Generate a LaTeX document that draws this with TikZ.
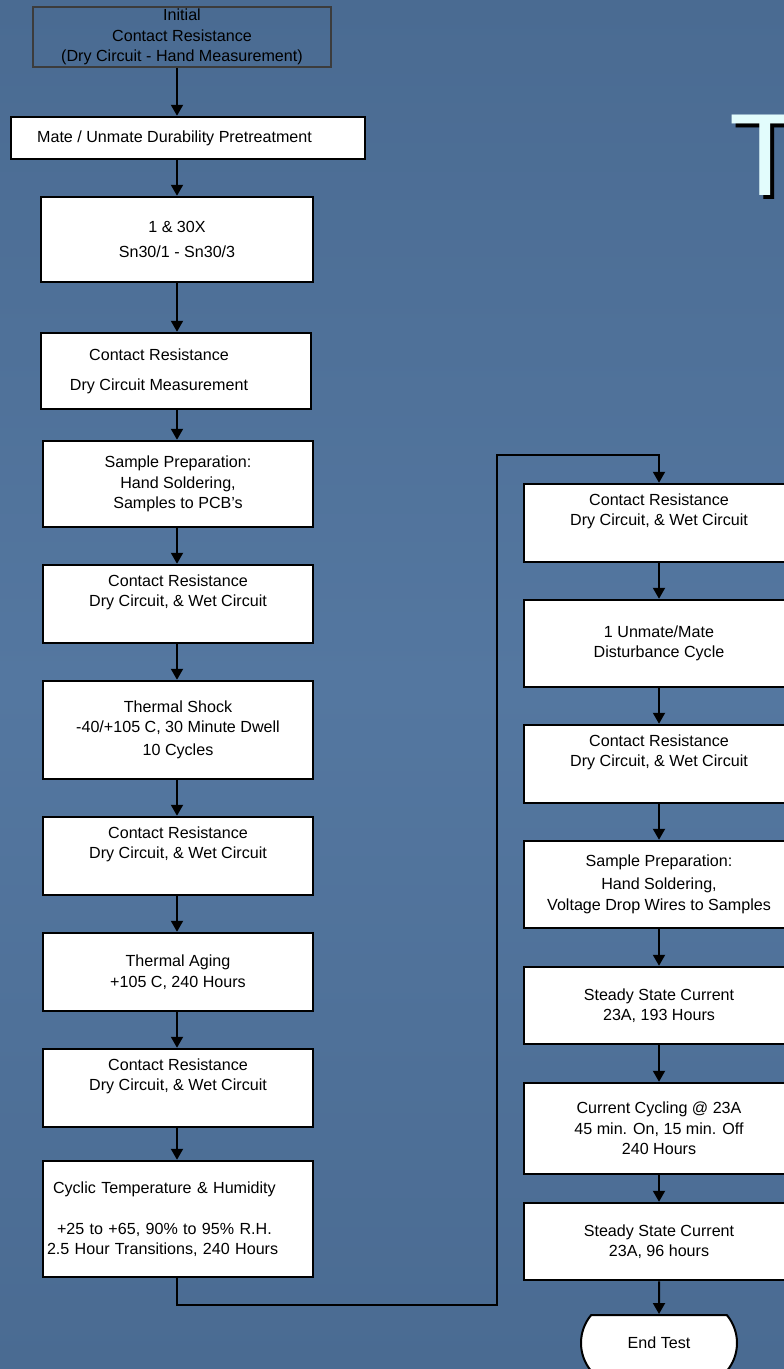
\documentclass[tikz,border=0pt]{standalone}
\usepackage{fontspec}
\setmainfont{Liberation Sans}
\usepackage{tikz}
\usetikzlibrary{arrows.meta,positioning,shapes.misc,calc}
\definecolor{slidebgdark}{HTML}{4A6B92}
\definecolor{slidebglight}{HTML}{5477A0}
\definecolor{titlecyan}{HTML}{E2FCFC}
\definecolor{framegray}{HTML}{3C3C3C}

\begin{document}
\begin{tikzpicture}[x=1pt,y=-1pt,
    stage/.style={draw=black,line width=2.5pt,fill=white,inner sep=0pt,minimum width=270pt,
      align=center,font=\fontsize{16.1}{20.5}\selectfont},
    flow/.style={line width=2pt,-{Triangle[length=11pt,width=12pt]}},
    heading/.style={anchor=base west,inner sep=0pt,font=\fontsize{117}{117}\selectfont}]
    \useasboundingbox (0,0) rectangle (784,1369);
    \clip (0,0) rectangle (784,1369);
    \shade[top color=slidebgdark,bottom color=slidebgdark,middle color=slidebglight] (0,0) rectangle (784,1369);
    \node (titleshadow) at (733,199) [heading,text=black] {T};
    \node (title) at (729.5,195) [heading,text=titlecyan] {T};
    \coordinate (spine) at (177,0);
    \node (init) at (182,37) [stage,fill=none,draw=framegray,line width=2pt,minimum width=298pt,minimum height=60pt] {Initial\\Contact Resistance\\(Dry Circuit - Hand Measurement)};
    \node (mate) at (188,138) [stage,minimum width=354pt,minimum height=42pt] {Mate / Unmate Durability Pretreatment\hspace*{27pt}};
    \node (cycles) at (177,239.5) [stage,minimum width=272pt,minimum height=85pt] {1 \& 30X\\[4.5pt]Sn30/1 - Sn30/3};
    \node (crdry) at (176,371) [stage,minimum height=76pt] {Contact Resistance\hspace*{34pt}\\[9.5pt]Dry Circuit Measurement\hspace*{34pt}};
    \node (prep) at (178,484) [stage,minimum height=86pt] {Sample Preparation:\\Hand Soldering,\\Samples to PCB's};
    \node (crone) at (178,604) [stage,minimum height=78pt] {Contact Resistance\\Dry Circuit, \& Wet Circuit\\\strut};
    \node (shock) at (178,730) [stage,minimum height=98pt] {Thermal Shock\\-40/+105 C, 30 Minute Dwell\\[2.5pt]10 Cycles};
    \node (crtwo) at (178,856) [stage,minimum height=78pt] {Contact Resistance\\Dry Circuit, \& Wet Circuit\\\strut};
    \node (aging) at (178,972) [stage,minimum height=78pt] {Thermal Aging\\+105 C, 240 Hours};
    \node (crthree) at (178,1088) [stage,minimum height=78pt] {Contact Resistance\\Dry Circuit, \& Wet Circuit\\\strut};
    \node (humid) at (178,1219) [stage,minimum height=116pt,text width=262pt,inner xsep=4pt,align=left] {\hspace*{6pt}Cyclic Temperature \& Humidity\\[20.5pt]\hspace*{10pt}+25 to +65, 90\% to 95\% R.H.\\2.5 Hour Transitions, 240 Hours};
    \node (crfour) at (659,523) [stage,minimum height=78pt] {Contact Resistance\\Dry Circuit, \& Wet Circuit\\\strut};
    \node (disturb) at (659,643.5) [stage,minimum height=87pt] {1 Unmate/Mate\\Disturbance Cycle};
    \node (crfive) at (659,764) [stage,minimum height=78pt] {Contact Resistance\\Dry Circuit, \& Wet Circuit\\\strut};
    \node (wires) at (659,884.5) [stage,minimum height=87pt] {Sample Preparation:\\[2.5pt]Hand Soldering,\\Voltage Drop Wires to Samples};
    \node (steadyone) at (659,1005.5) [stage,minimum height=77pt] {Steady State Current\\23A, 193 Hours};
    \node (cycling) at (659,1128.5) [stage,minimum height=91pt] {Current Cycling @ 23A\\45 min. On, 15 min. Off\\240 Hours};
    \node (steadytwo) at (659,1241.5) [stage,minimum height=77pt] {Steady State Current\\23A, 96 hours};
    \node (endtest) at (659,1343) [stage,line width=2pt,rounded rectangle,rounded rectangle arc length=80,minimum width=156pt,minimum height=56pt] {End Test};
    \draw[flow] (init.south -| spine) -- (mate.north -| spine);
    \draw[flow] (mate.south -| spine) -- (cycles.north -| spine);
    \draw[flow] (cycles.south -| spine) -- (crdry.north -| spine);
    \draw[flow] (crdry.south -| spine) -- (prep.north -| spine);
    \draw[flow] (prep.south -| spine) -- (crone.north -| spine);
    \draw[flow] (crone.south -| spine) -- (shock.north -| spine);
    \draw[flow] (shock.south -| spine) -- (crtwo.north -| spine);
    \draw[flow] (crtwo.south -| spine) -- (aging.north -| spine);
    \draw[flow] (aging.south -| spine) -- (crthree.north -| spine);
    \draw[flow] (crthree.south -| spine) -- (humid.north -| spine);
    \coordinate (lowturn) at (497,1305);
    \coordinate (highturn) at (497,455);
    \draw[flow] (humid.south -| spine) |- (lowturn) -- (highturn) -| (crfour.north);
    \draw[flow] (crfour) -- (disturb);
    \draw[flow] (disturb) -- (crfive);
    \draw[flow] (crfive) -- (wires);
    \draw[flow] (wires) -- (steadyone);
    \draw[flow] (steadyone) -- (cycling);
    \draw[flow] (cycling) -- (steadytwo);
    \draw[flow] (steadytwo) -- (endtest);
  \end{tikzpicture}
\end{document}
